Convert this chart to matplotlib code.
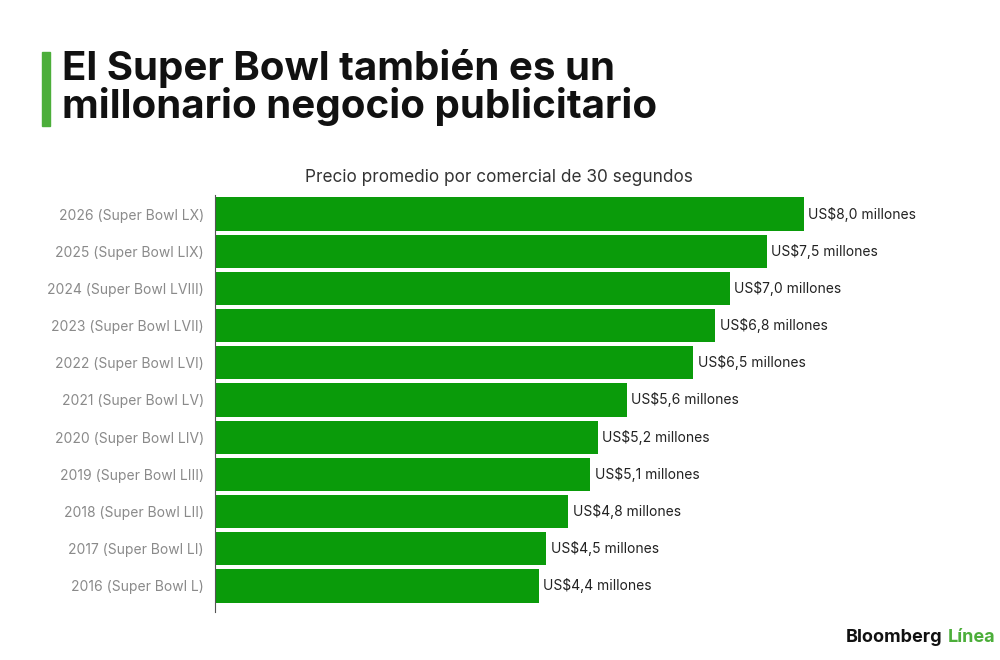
import matplotlib.pyplot as plt

## DATA---------------------------------------------------------------------------
years = ['2016 (Super Bowl L)', '2017 (Super Bowl LI)', '2018 (Super Bowl LII)',
         '2019 (Super Bowl LIII)', '2020 (Super Bowl LIV)', '2021 (Super Bowl LV)',
         '2022 (Super Bowl LVI)', '2023 (Super Bowl LVII)', '2024 (Super Bowl LVIII)',
         '2025 (Super Bowl LIX)', '2026 (Super Bowl LX)']
prices = [4.4, 4.5, 4.8, 5.1, 5.2, 5.6, 6.5, 6.8, 7.0, 7.5, 8.0]
value_labels = ['US$4,4 millones', 'US$4,5 millones', 'US$4,8 millones',
                'US$5,1 millones', 'US$5,2 millones', 'US$5,6 millones',
                'US$6,5 millones', 'US$6,8 millones', 'US$7,0 millones',
                'US$7,5 millones', 'US$8,0 millones']
## -------------------------------------------------------------------------------

bar_green = '#0a9b0a'
accent_green = '#4cae3a'

plt.rcParams['font.family'] = ['Inter', 'DejaVu Sans']

fig = plt.figure(figsize=(10, 6.6), dpi=100)
ax = fig.add_axes([0.215, 0.0727, 0.685, 0.6318])

pos = range(len(years))
ax.barh(pos, prices, height=0.89, color=bar_green, zorder=2)

for y, v, lab in zip(pos, prices, value_labels):
    ax.text(v + 0.06, y, lab, va='center', ha='left', fontsize=10, color='#222222')

ax.set_yticks(list(pos))
ax.set_yticklabels(years, fontsize=10, color='#8a8a8a')
ax.tick_params(axis='y', length=0, pad=8)
ax.set_xticks([])
ax.set_xlim(0, 9.31)
ax.set_ylim(-0.70, 10.51)

for s in ['top', 'right', 'bottom']:
    ax.spines[s].set_visible(False)
ax.spines['left'].set_color('#555555')
ax.spines['left'].set_linewidth(0.8)

# title block
fig.patches.append(plt.Rectangle((0.042, 1 - 126 / 660), 0.008, 74 / 660,
                                 transform=fig.transFigure, color=accent_green))
fig.text(0.062, 1 - 68 / 660, 'El Super Bowl también es un', fontsize=29,
         fontweight='bold', color='#111111', va='center', ha='left')
fig.text(0.062, 1 - 107 / 660, 'millonario negocio publicitario', fontsize=29,
         fontweight='bold', color='#111111', va='center', ha='left')

fig.text(0.499, 1 - 177 / 660, 'Precio promedio por comercial de 30 segundos',
         fontsize=12.4, color='#333333', ha='center', va='center')

# logo
t2 = fig.text(0.995, 1 - 638 / 660, 'Línea', fontsize=13, fontweight='bold',
              color=accent_green, ha='right', va='center')
fig.canvas.draw()
bb = t2.get_window_extent()
fig.text((bb.x0 - 5) / 1000, 1 - 638 / 660, 'Bloomberg', fontsize=13,
         fontweight='bold', color='#111111', ha='right', va='center')

fig.savefig('out.png', dpi=100, facecolor='white')
